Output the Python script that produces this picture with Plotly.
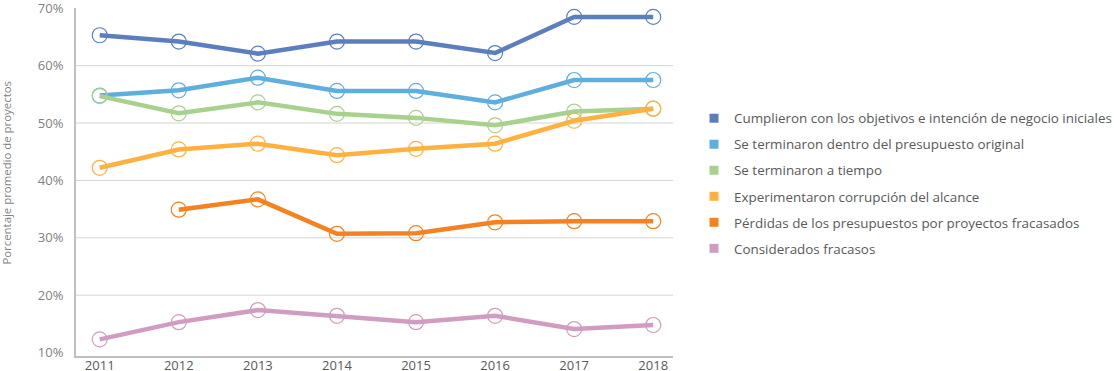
import plotly.graph_objects as go

years = ["2011", "2012", "2013", "2014", "2015", "2016", "2017", "2018"]
series_names = [
    "Cumplieron con los objetivos e intención de negocio iniciales",
    "Se terminaron dentro del presupuesto original",
    "Se terminaron a tiempo",
    "Experimentaron corrupción del alcance",
    "Pérdidas de los presupuestos por proyectos fracasados",
    "Considerados fracasos",
]
cumplieron = [65.3, 64.2, 62.1, 64.2, 64.2, 62.2, 68.5, 68.5]
presupuesto = [54.8, 55.7, 57.9, 55.6, 55.6, 53.6, 57.5, 57.5]
a_tiempo = [54.7, 51.7, 53.6, 51.6, 50.9, 49.6, 52.0, 52.5]
alcance = [42.2, 45.4, 46.4, 44.4, 45.5, 46.4, 50.4, 52.5]
perdidas = [None, 34.9, 36.7, 30.7, 30.8, 32.7, 32.9, 32.9]
fracasos = [12.3, 15.3, 17.4, 16.4, 15.3, 16.4, 14.1, 14.8]
y_ticks = [10, 20, 30, 40, 50, 60, 70]
y_tick_labels = ["10%", "20%", "30%", "40%", "50%", "60%", "70%"]
grid_values = [20, 30, 40, 50, 60]

all_values = [cumplieron, presupuesto, a_tiempo, alcance, perdidas, fracasos]
colors = ["#5b7fbc", "#5eaede", "#a8d18d", "#ffb140", "#f58220", "#d09cc1"]

fig = go.Figure()

x_idx = list(range(len(years)))

for name, vals, col in zip(series_names, all_values, colors):
    fig.add_trace(go.Scatter(
        x=x_idx, y=vals, mode="lines+markers", name=name,
        line=dict(color=col, width=4.5),
        marker=dict(symbol="circle-open", size=15, color=col, line=dict(width=1.2)),
        connectgaps=False, showlegend=False, hoverinfo="x+y",
    ))

for i, (name, col) in enumerate(zip(series_names, colors)):
    fig.add_trace(go.Scatter(
        x=[None], y=[None], mode="markers", name=name,
        marker=dict(symbol="square", size=9, color=col),
        showlegend=True, legendgroup=f"g{i}",
    ))

for g in grid_values:
    fig.add_shape(type="line", xref="paper", x0=0, x1=1, yref="y", y0=g, y1=g,
                  line=dict(color="#d4d4d4", width=1), layer="below")

fig.update_layout(
    width=1114, height=371,
    margin=dict(l=76, r=441, t=7.5, b=15, autoexpand=False),
    plot_bgcolor="white", paper_bgcolor="white",
    font=dict(family="Open Sans", color="#7f7f7f", size=13),
    xaxis=dict(
        tickmode="array", tickvals=x_idx, ticktext=years,
        range=[-0.3, 7.25], showgrid=False, zeroline=False,
        showline=True, linecolor="#bfbfbf", linewidth=2,
        ticks="", ticklabelstandoff=-4, ticklabeloverflow="allow",
        tickfont=dict(size=13, color="#595959"), automargin=False,
    ),
    yaxis=dict(
        tickmode="array", tickvals=y_ticks, ticktext=y_tick_labels,
        range=[9.4, 70.05], showgrid=False, zeroline=False,
        showline=True, linecolor="#bfbfbf", linewidth=2,
        ticks="", ticklabelstandoff=8, ticklabeloverflow="allow",
        tickfont=dict(size=13, color="#808080"), automargin=False,
    ),
    legend=dict(
        x=1.0352, xanchor="left", y=0.727, yanchor="top",
        font=dict(size=13.4, color="#595959"),
        tracegroupgap=5.6, bgcolor="rgba(0,0,0,0)",
    ),
    annotations=[dict(
        text="Porcentaje promedio de proyectos", textangle=-90,
        xref="paper", yref="paper", x=-0.1156, y=0.527,
        xanchor="center", yanchor="middle", showarrow=False,
        font=dict(size=11.4, color="#7f7f7f"),
    )],
)

fig.write_html(
    "out.html",
    config={"displayModeBar": False},
    post_script="document.body.style.margin='0';document.body.style.overflow='hidden';",
)
